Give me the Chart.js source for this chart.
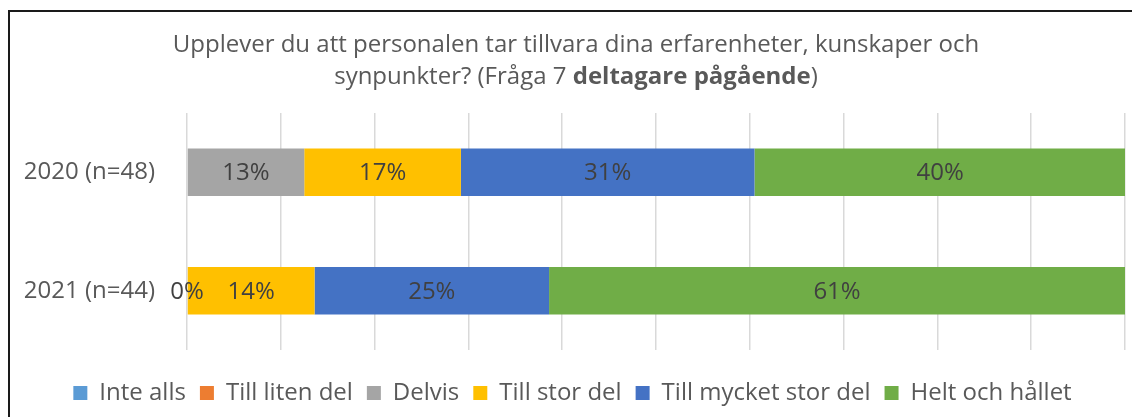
<!DOCTYPE html>
<html>
<head>
<meta charset="utf-8">
<script src="https://cdn.jsdelivr.net/npm/chart.js@4"></script>
<style>
  html, body { margin: 0; padding: 0; background: #fff; }
  #wrap { position: relative; width: 1132px; height: 417px; }
</style>
</head>
<body>
<div id="wrap"><canvas id="chart"></canvas></div>
<script>
// Data (share of respondents, %)
const categories = ['2020 (n=48)', '2021 (n=44)'];
const seriesNames = ['Inte alls', 'Till liten del', 'Delvis', 'Till stor del', 'Till mycket stor del', 'Helt och hållet'];
const inteAlls = [null, null];
const tillLitenDel = [null, null];
const delvis = [12.5, 0];
const tillStorDel = [16.7, 13.6];
const tillMycketStorDel = [31.3, 25.0];
const heltOchHallet = [39.6, 61.4];
const seriesColors = ['#5B9BD5', '#ED7D31', '#A5A5A5', '#FFC000', '#4472C4', '#70AD47'];

const titleLine1 = 'Upplever du att personalen tar tillvara dina erfarenheter, kunskaper och';
const titleLine2 = [
  { text: 'synpunkter? (Fråga 7 ', bold: false },
  { text: 'deltagare pågående', bold: true },
  { text: ')', bold: false }
];

const FONT = "'Open Sans', sans-serif";
const TEXT_GREY = '#595959';
const SIZE = 24;

const allSeries = [inteAlls, tillLitenDel, delvis, tillStorDel, tillMycketStorDel, heltOchHallet];

// Title with a bold part, frame and value labels
const decorPlugin = {
  id: 'decor',
  afterDraw(chart) {
    const c = chart.ctx;
    c.save();
    // chart frame (cropped Excel border)
    c.strokeStyle = '#1a1a1a';
    c.lineWidth = 2;
    c.beginPath();
    c.moveTo(9, 417);
    c.lineTo(9, 11);
    c.lineTo(1132, 11);
    c.stroke();

    // title
    const cx = 576;
    c.fillStyle = TEXT_GREY;
    c.textBaseline = 'middle';
    c.textAlign = 'left';
    c.font = SIZE + 'px ' + FONT;
    let w = c.measureText(titleLine1).width;
    c.fillText(titleLine1, cx - w / 2, 45);
    let total = 0;
    titleLine2.forEach(p => {
      c.font = (p.bold ? 'bold ' : '') + SIZE + 'px ' + FONT;
      total += c.measureText(p.text).width;
    });
    let x = cx - total / 2;
    titleLine2.forEach(p => {
      c.font = (p.bold ? 'bold ' : '') + SIZE + 'px ' + FONT;
      c.fillText(p.text, x, 77);
      x += c.measureText(p.text).width;
    });

    // value labels
    c.font = SIZE + 'px ' + FONT;
    c.fillStyle = '#404040';
    c.textAlign = 'center';
    chart.data.datasets.forEach((ds, i) => {
      const meta = chart.getDatasetMeta(i);
      meta.data.forEach((bar, j) => {
        const v = ds.data[j];
        if (v === null || v === undefined) return;
        const p = bar.getProps(['x', 'y', 'base'], true);
        c.fillText(Math.round(v) + '%', (p.x + p.base) / 2, p.y + 1);
      });
    });
    c.restore();
  }
};

new Chart(document.getElementById('chart'), {
  type: 'bar',
  data: {
    labels: categories,
    datasets: seriesNames.map((name, i) => ({
      label: name,
      data: allSeries[i],
      backgroundColor: seriesColors[i],
      borderWidth: 0,
      categoryPercentage: 1,
      barPercentage: 0.4
    }))
  },
  options: {
    indexAxis: 'y',
    responsive: true,
    maintainAspectRatio: false,
    animation: false,
    layout: { padding: { top: 113, right: 7, bottom: 2, left: 20 } },
    scales: {
      x: {
        stacked: true,
        min: 0,
        max: 100,
        ticks: { display: false, stepSize: 10 },
        grid: { color: '#d9d9d9', lineWidth: 1.5, drawTicks: false },
        border: { display: false },
        afterFit(scale) { scale.height = 17; }
      },
      y: {
        stacked: true,
        grid: { display: false },
        border: { display: false },
        ticks: { color: TEXT_GREY, font: { family: FONT, size: SIZE }, padding: 24 },
        afterFit(scale) { scale.width = 167; }
      }
    },
    plugins: {
      title: { display: false },
      tooltip: { enabled: false },
      legend: {
        position: 'bottom',
        labels: {
          color: TEXT_GREY,
          font: { family: FONT, size: SIZE },
          boxWidth: 14,
          boxHeight: 14,
          padding: 14
        }
      }
    }
  },
  plugins: [decorPlugin]
});
</script>
</body>
</html>
